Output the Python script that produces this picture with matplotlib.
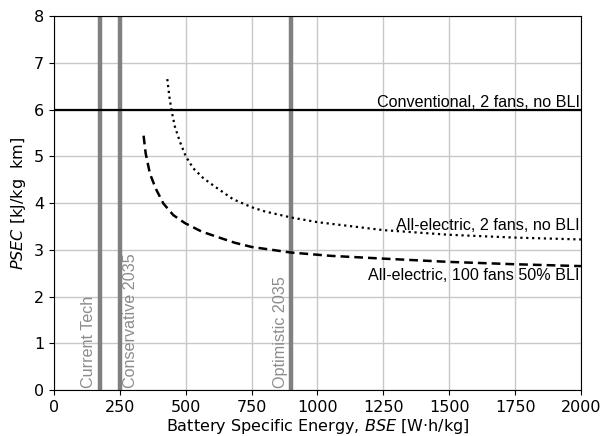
import numpy as np
import matplotlib
matplotlib.use("Agg")
import matplotlib.pyplot as plt

# Curves
bse_2fans = [430, 438, 447, 459, 478, 500, 529, 567, 611, 680, 750, 800, 900,
             1000, 1250, 1500, 1750, 2000]
psec_2fans = [6.65, 6.27, 5.95, 5.63, 5.31, 5.0, 4.74, 4.53, 4.35, 4.08, 3.91, 3.82, 3.69,
              3.59, 3.42, 3.32, 3.26, 3.22]

bse_100fans = [340, 348, 364, 386, 415, 453, 497, 560, 622, 686, 750, 825, 900,
               1050, 1250, 1500, 1750, 2000]
psec_100fans = [5.44, 5.06, 4.63, 4.31, 3.99, 3.74, 3.57, 3.39, 3.27, 3.15, 3.06, 3.0, 2.94,
                2.87, 2.81, 2.74, 2.69, 2.65]

psec_conventional = 5.98

tech_bse = [175, 250, 900]
tech_labels = ["Current Tech", "Conservative 2035", "Optimistic 2035"]
tech_side = ["left", "right", "left"]

plt.rcParams.update({
    'xtick.labelsize': 11.5,
    'ytick.labelsize': 11.5,
    'axes.labelsize': 11.5,
})

fig = plt.figure(figsize=(6.02, 4.36), dpi=100)
ax = fig.add_axes([0.0897, 0.1055, 0.8753, 0.8578])

ax.grid(True, color='#c8c8c8', linewidth=1.0)
ax.set_axisbelow(True)

for x, lab, side in zip(tech_bse, tech_labels, tech_side):
    ax.axvline(x, color='#808080', linewidth=3.2, zorder=2)
    dx = -8 if side == "left" else 8
    ax.annotate(lab, xy=(x, 0.05), xytext=(dx, 0), textcoords='offset points',
                rotation=90, ha='center', va='bottom', color='#8c8c8c',
                fontsize=11.6, family='Liberation Sans')

ax.axhline(psec_conventional, color='black', linewidth=1.6, zorder=3)
ax.plot(bse_2fans, psec_2fans, color='black', linestyle=':', linewidth=1.6, zorder=3)
ax.plot(bse_100fans, psec_100fans, color='black', linestyle=(0, (3.5, 2)), linewidth=1.8, zorder=3)

txt = dict(ha='right', va='baseline', fontsize=11.6, family='Liberation Sans', zorder=4)
ax.text(1995, 6.06, "Conventional, 2 fans, no BLI", **txt)
ax.text(1995, 3.42, "All-electric, 2 fans, no BLI", **txt)
ax.text(1995, 2.36, "All-electric, 100 fans 50% BLI", **txt)

ax.set_xlim(0, 2000)
ax.set_ylim(0, 8)
ax.set_xticks(np.arange(0, 2001, 250))
ax.set_yticks(np.arange(0, 9, 1))

ax.set_xlabel("Battery Specific Energy, $BSE$ [W\u00b7h/kg]", labelpad=1.5)
ax.set_ylabel("$PSEC$ [kJ/kg  km]")

fig.savefig("out.png", dpi=100)
